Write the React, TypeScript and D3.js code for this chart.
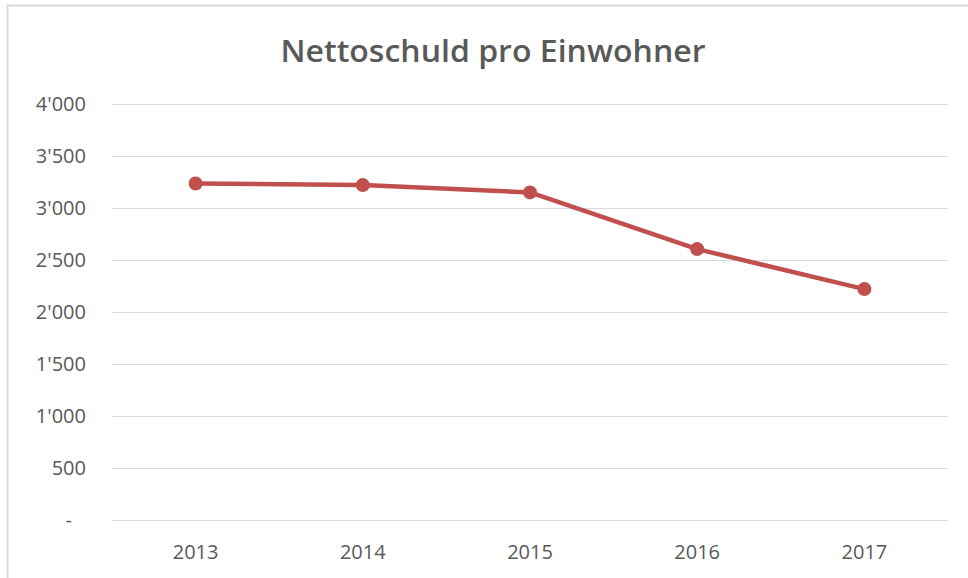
import React, { useRef, useEffect } from "react";
import * as d3 from "d3";

// Nettoschuld pro Einwohner (CHF)
const years = ["2013", "2014", "2015", "2016", "2017"];
const nettoschuld = [3235, 3220, 3150, 2605, 2220];
const yTicks = [0, 500, 1000, 1500, 2000, 2500, 3000, 3500, 4000];
const title = "Nettoschuld pro Einwohner";

const W = 968;
const H = 578;
const lineColor = "#C0504D";
const textColor = "#595959";
const font = "'Open Sans', 'Noto Sans', sans-serif";

function LineChart() {
  const ref = useRef<SVGSVGElement>(null);

  useEffect(() => {
    const svg = d3.select(ref.current);
    svg.selectAll("*").remove();

    const margin = { top: 104, right: 20, bottom: 58, left: 112 };
    const width = 948 - margin.left;
    const height = 520 - margin.top;

    // outer frame of the chart area
    svg.append("rect")
      .attr("x", 7.5)
      .attr("y", 5.5)
      .attr("width", W + 10)
      .attr("height", H + 10)
      .attr("fill", "#fff")
      .attr("stroke", "#d9d9d9")
      .attr("stroke-width", 2);

    svg.append("text")
      .attr("x", 493)
      .attr("y", 62)
      .attr("text-anchor", "middle")
      .attr("font-family", font)
      .attr("font-weight", 600)
      .attr("font-size", 31)
      .attr("fill", textColor)
      .attr("textLength", 425)
      .attr("lengthAdjust", "spacingAndGlyphs")
      .text(title);

    const g = svg.append("g")
      .attr("transform", "translate(" + margin.left + "," + margin.top + ")");

    const x = d3.scaleBand().domain(years).range([0, width]);
    const y = d3.scaleLinear().domain([0, 4000]).range([height, 0]);

    const loc = d3.formatLocale({ decimal: ".", thousands: "'", grouping: [3], currency: ["", ""] });
    const fmt = loc.format(",");

    // gridlines
    g.selectAll(".grid")
      .data(yTicks)
      .enter()
      .append("line")
      .attr("x1", 0)
      .attr("x2", width)
      .attr("y1", d => Math.round(y(d)) + 0.5)
      .attr("y2", d => Math.round(y(d)) + 0.5)
      .attr("stroke", "#d9d9d9")
      .attr("stroke-width", 1);

    // y labels
    g.selectAll(".ylab")
      .data(yTicks)
      .enter()
      .append("text")
      .attr("x", d => (d === 0 ? -40 : -26))
      .attr("y", d => y(d) + 7)
      .attr("text-anchor", "end")
      .attr("font-family", font)
      .attr("font-size", 20)
      .attr("fill", textColor)
      .text(d => (d === 0 ? "-" : fmt(d)));

    // x labels
    g.selectAll(".xlab")
      .data(years)
      .enter()
      .append("text")
      .attr("x", d => (x(d) as number) + x.bandwidth() / 2)
      .attr("y", height + 39)
      .attr("text-anchor", "middle")
      .attr("font-family", font)
      .attr("font-size", 20)
      .attr("fill", textColor)
      .text(d => d);

    const pts = years.map((yr, i) => ({ year: yr, value: nettoschuld[i] }));

    g.append("path")
      .datum(pts)
      .attr("fill", "none")
      .attr("stroke", lineColor)
      .attr("stroke-width", 4.5)
      .attr("stroke-linejoin", "round")
      .attr("d", d3.line<{ year: string; value: number }>()
        .x(d => (x(d.year) as number) + x.bandwidth() / 2)
        .y(d => y(d.value)));

    g.selectAll(".dot")
      .data(pts)
      .enter()
      .append("circle")
      .attr("cx", d => (x(d.year) as number) + x.bandwidth() / 2)
      .attr("cy", d => y(d.value))
      .attr("r", 7)
      .attr("fill", lineColor);
  }, []);

  return (
    <svg
      ref={ref}
      width={W}
      height={H}
      style={{ position: "absolute", left: 0, top: 0, display: "block", background: "#fff" }}
    />
  );
}

export default function App() {
  return <LineChart />;
}
